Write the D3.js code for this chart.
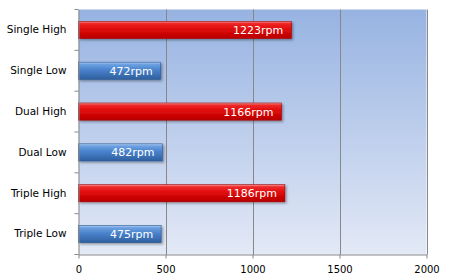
<!DOCTYPE html>
<html><head><meta charset="utf-8">
<script src="https://cdn.jsdelivr.net/npm/d3@7"></script>
<style>body{margin:0;background:#fff}svg{display:block}</style>
</head><body>
<svg id="c" width="450" height="279"></svg>
<script>
const categories = ["Single High","Single Low","Dual High","Dual Low","Triple High","Triple Low"];
const values = [1223,472,1166,482,1186,475];
const kinds = ["high","low","high","low","high","low"];
const xTicks = [0,500,1000,1500,2000];
const unit = "rpm";

const svg = d3.select("#c");
const m = {l:78.5, r:23.5, t:9.5, b:24.5};
const W = 450, H = 279;
const x = d3.scaleLinear().domain([0,2000]).range([m.l, W-m.r]);
const y = d3.scaleBand().domain(categories).range([m.t, H-m.b]).paddingInner(0.58).paddingOuter(0.29);
const band = d3.scaleBand().domain(categories).range([m.t, H-m.b]);

const defs = svg.append("defs");
const bg = defs.append("linearGradient").attr("id","bg").attr("x1",0).attr("y1",0).attr("x2",0).attr("y2",1);
bg.append("stop").attr("offset","0%").attr("stop-color","#97b3e2");
bg.append("stop").attr("offset","100%").attr("stop-color","#e3e9f6");
const rg = defs.append("linearGradient").attr("id","red").attr("x1",0).attr("y1",0).attr("x2",0).attr("y2",1);
[["0%","#f6a0a0"],["12%","#ee2a2a"],["45%","#e00a0a"],["100%","#b80000"]].forEach(s=>rg.append("stop").attr("offset",s[0]).attr("stop-color",s[1]));
const bgr = defs.append("linearGradient").attr("id","blue").attr("x1",0).attr("y1",0).attr("x2",0).attr("y2",1);
[["0%","#b5d0f2"],["12%","#6da2e2"],["45%","#4a82cc"],["100%","#2e5f9e"]].forEach(s=>bgr.append("stop").attr("offset",s[0]).attr("stop-color",s[1]));
const f = defs.append("filter").attr("id","sh").attr("x","-5%").attr("y","-20%").attr("width","120%").attr("height","160%");
f.append("feDropShadow").attr("dx",1.5).attr("dy",1.5).attr("stdDeviation",1).attr("flood-color","#000").attr("flood-opacity",0.35);

svg.append("rect").attr("x",m.l).attr("y",m.t).attr("width",x(2000)-m.l).attr("height",H-m.b-m.t).attr("fill","url(#bg)");

// gridlines
svg.append("g").selectAll("line").data(xTicks.slice(1)).join("line")
  .attr("x1",d=>Math.round(x(d))+0.5).attr("x2",d=>Math.round(x(d))+0.5)
  .attr("y1",m.t).attr("y2",H-m.b).attr("stroke","#888").attr("stroke-width",1);

// bars
const g = svg.append("g");
g.selectAll("rect").data(values).join("rect")
  .attr("x",x(0)).attr("y",(d,i)=>y(categories[i])).attr("width",d=>x(d)-x(0)).attr("height",y.bandwidth())
  .attr("fill",(d,i)=>kinds[i]==="high"?"url(#red)":"url(#blue)")
  .attr("stroke",(d,i)=>kinds[i]==="high"?"#a00000":"#2a5890").attr("stroke-width",0.6)
  .attr("filter","url(#sh)");
g.selectAll("text").data(values).join("text")
  .attr("x",d=>x(d)-8).attr("y",(d,i)=>y(categories[i])+y.bandwidth()/2+4)
  .attr("text-anchor","end").attr("fill","#fff")
  .style("font-family","Verdana, 'DejaVu Sans', sans-serif").style("font-size","11px")
  .text(d=>d+unit);

// axes
const xa = svg.append("g").attr("transform",`translate(0,${H-m.b})`)
  .call(d3.axisBottom(x).tickValues(xTicks).tickSize(4).tickSizeOuter(0).tickFormat(d3.format("d")));
xa.select(".domain").attr("stroke","#888");
xa.selectAll(".tick line").attr("stroke","#888");
xa.selectAll("text").attr("fill","#000").attr("dy","1.1em").style("font-family","Verdana, 'DejaVu Sans', sans-serif").style("font-size","10px");

const ya = svg.append("g").attr("transform",`translate(${m.l},0)`)
  .call(d3.axisLeft(band).tickSize(0).tickPadding(12));
ya.select(".domain").attr("stroke","#888");
ya.selectAll("text").attr("fill","#000").style("font-family","Verdana, 'DejaVu Sans', sans-serif").style("font-size","10.5px");
svg.append("g").selectAll("line").data(categories.concat(["end"])).join("line")
  .attr("x1",m.l-4).attr("x2",m.l)
  .attr("y1",(d,i)=>i<categories.length?band(d):H-m.b).attr("y2",(d,i)=>i<categories.length?band(d):H-m.b)
  .attr("stroke","#888");
</script>
</body></html>
